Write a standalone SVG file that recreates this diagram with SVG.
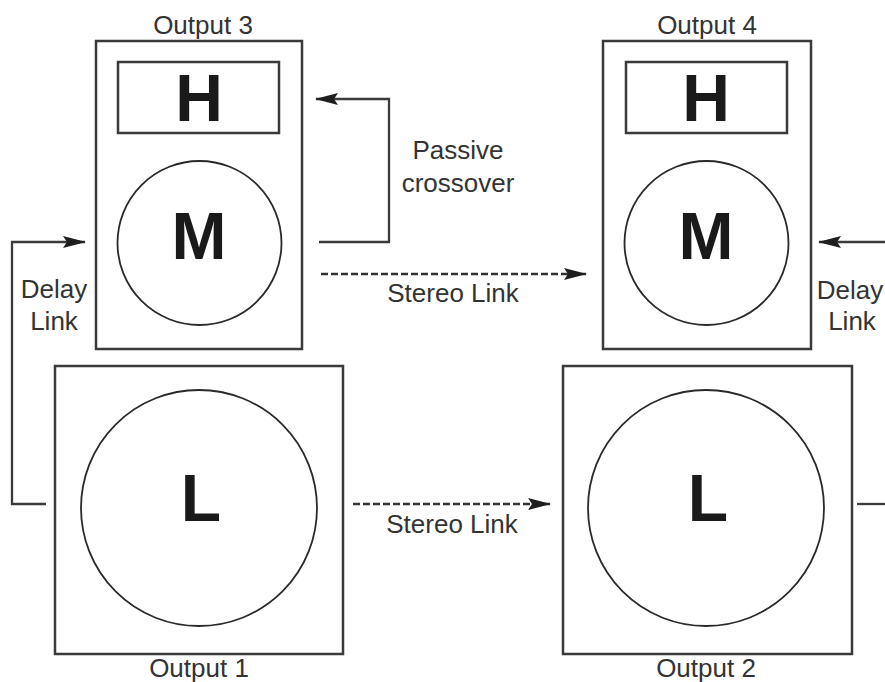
<svg xmlns="http://www.w3.org/2000/svg" width="885" height="682" viewBox="0 0 885 682">
<style>
.box{fill:none;stroke:#3a3a3a;stroke-width:2.5}
.drv{fill:none;stroke:#2a2a2a;stroke-width:1.8}
.ln{fill:none;stroke:#3a3a3a;stroke-width:2.3}
.dash{fill:none;stroke:#333;stroke-width:2.6;stroke-dasharray:7 3}
.lbl{font-family:"Liberation Sans",Arial,sans-serif;font-size:26px;fill:#333;text-anchor:middle}
.big{font-family:"Liberation Sans",Arial,sans-serif;font-size:66px;font-weight:bold;fill:#1a1a1a;text-anchor:middle}
</style>
<defs>
<marker id="ah" markerWidth="24" markerHeight="14" refX="22" refY="7" orient="auto" markerUnits="userSpaceOnUse">
<path d="M0,1 L23,7 L0,13 L4,7 Z" fill="#1e1e1e"/>
</marker>
</defs>
<rect width="885" height="682" fill="#fff"/>
<g id="output3">
<rect class="box" x="96" y="41" width="206" height="308"/>
<rect class="box" x="118" y="62" width="161" height="71"/>
<circle class="drv" cx="199.5" cy="243" r="82"/>
<text class="big" x="199" y="121">H</text>
<text class="big" x="199" y="259">M</text>
<text class="lbl" x="203" y="34">Output 3</text>
</g>
<g id="output4">
<rect class="box" x="603" y="41" width="208" height="308"/>
<rect class="box" x="626" y="62" width="161" height="71"/>
<circle class="drv" cx="706.5" cy="243" r="82"/>
<text class="big" x="706" y="121">H</text>
<text class="big" x="706" y="259">M</text>
<text class="lbl" x="707" y="34">Output 4</text>
</g>
<g id="output1">
<rect class="box" x="55" y="366" width="288" height="288"/>
<circle class="drv" cx="199" cy="508" r="118"/>
<text class="big" x="201" y="521">L</text>
<text class="lbl" x="199" y="677">Output 1</text>
</g>
<g id="output2">
<rect class="box" x="563" y="366" width="289" height="288"/>
<circle class="drv" cx="706" cy="508" r="118"/>
<text class="big" x="708" y="521">L</text>
<text class="lbl" x="706" y="677">Output 2</text>
</g>
<g id="connectors">
<polyline class="ln" points="319,242 389,242 389,99 316,99" marker-end="url(#ah)"/>
<text class="lbl" x="458" y="159">Passive</text>
<text class="lbl" x="458" y="192">crossover</text>
<line class="dash" x1="321" y1="274" x2="586" y2="274" marker-end="url(#ah)"/>
<text class="lbl" x="453" y="302">Stereo Link</text>
<line class="dash" x1="353" y1="504" x2="550" y2="504" marker-end="url(#ah)"/>
<text class="lbl" x="452" y="533">Stereo Link</text>
<polyline class="ln" points="46,504 12,504 12,242 85,242" marker-end="url(#ah)"/>
<text class="lbl" x="54" y="298">Delay</text>
<text class="lbl" x="54" y="330">Link</text>
<line class="ln" x1="885" y1="242" x2="819" y2="242" marker-end="url(#ah)"/>
<text class="lbl" x="850" y="299">Delay</text>
<text class="lbl" x="852" y="330">Link</text>
<line class="ln" x1="857" y1="504" x2="885" y2="504"/>
</g>
</svg>
